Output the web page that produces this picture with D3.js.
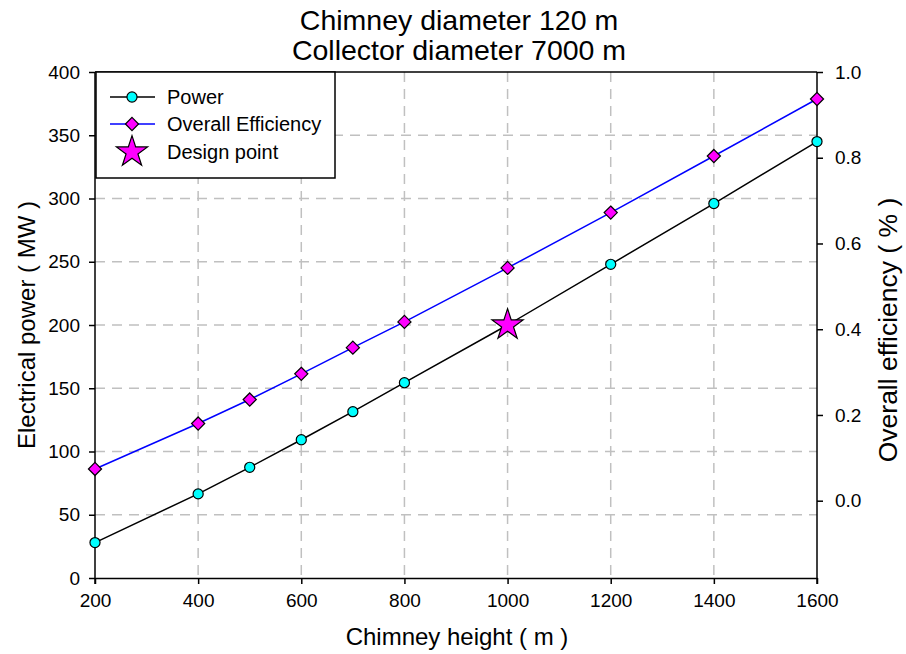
<!DOCTYPE html>
<html>
<head>
<meta charset="utf-8">
<script src="https://cdn.jsdelivr.net/npm/d3@7"></script>
<style>
  body { margin: 0; background: #fff; }
  text { font-family: "Liberation Sans", Arial, sans-serif; fill: #000; }
</style>
</head>
<body>
<svg width="906" height="654"></svg>
<script>
// chart values
var heights = [200, 400, 500, 600, 700, 800, 1000, 1200, 1400, 1600];
var power = [28, 66.5, 87.5, 109.3, 131.5, 154.4, 200, 248, 296, 345];
var efficiency = [0.074, 0.180, 0.236, 0.296, 0.357, 0.417, 0.543, 0.672, 0.804, 0.937];
var design = [{h: 1000, p: 200}];
var xTicks = [200, 400, 600, 800, 1000, 1200, 1400, 1600];
var yTicks = [0, 50, 100, 150, 200, 250, 300, 350, 400];
var effTicks = [0.0, 0.2, 0.4, 0.6, 0.8, 1.0];

var pLeft = 95, pRight = 817, pTop = 72, pBottom = 578;

var svg = d3.select("svg");

var x = d3.scaleLinear().domain([200, 1600]).range([pLeft, pRight]);
var y = d3.scaleLinear().domain([0, 400]).range([pBottom, pTop]);
var y2 = d3.scaleLinear().domain([0, 1]).range([500.7, pTop]);

// grid
svg.append("g").selectAll("line")
    .data(xTicks.slice(1, -1))
    .enter().append("line")
    .attr("x1", function(d) { return x(d); })
    .attr("x2", function(d) { return x(d); })
    .attr("y1", pTop).attr("y2", pBottom)
    .attr("stroke", "#c0c0c0").attr("stroke-width", 1.5)
    .attr("stroke-dasharray", "10,7");
svg.append("g").selectAll("line")
    .data(yTicks.slice(1, -1))
    .enter().append("line")
    .attr("y1", function(d) { return y(d); })
    .attr("y2", function(d) { return y(d); })
    .attr("x1", pLeft).attr("x2", pRight)
    .attr("stroke", "#c0c0c0").attr("stroke-width", 1.5)
    .attr("stroke-dasharray", "10,7");

// frame top
svg.append("line")
    .attr("x1", pLeft).attr("x2", pRight).attr("y1", pTop).attr("y2", pTop)
    .attr("stroke", "#000").attr("stroke-width", 1.5);

// axes
var xAxis = svg.append("g")
    .attr("transform", "translate(0," + pBottom + ")")
    .call(d3.axisBottom(x).tickValues(xTicks).tickFormat(d3.format("d"))
      .tickSize(6).tickPadding(10).tickSizeOuter(0));
var yAxis = svg.append("g")
    .attr("transform", "translate(" + pLeft + ",0)")
    .call(d3.axisLeft(y).tickValues(yTicks).tickFormat(d3.format("d"))
      .tickSize(6).tickPadding(9).tickSizeOuter(0));
var y2Axis = svg.append("g")
    .attr("transform", "translate(" + pRight + ",0)")
    .call(d3.axisRight(y2).tickValues(effTicks).tickFormat(d3.format(".1f"))
      .tickSize(6).tickPadding(12).tickSizeOuter(0));

[xAxis, yAxis, y2Axis].forEach(function(g) {
  g.select(".domain").attr("stroke-width", 1.5);
  g.selectAll(".tick line").attr("stroke-width", 1.5);
  g.selectAll("text").style("font-size", "19px");
});
// extend axis lines to the plot bottom
y2Axis.select(".domain").attr("d", "M0," + pTop + "V" + (pBottom + 6));
yAxis.select(".domain").attr("d", "M0," + pTop + "V" + (pBottom + 6));

// lines
var powerLine = d3.line()
    .x(function(d, i) { return x(heights[i]); })
    .y(function(d) { return y(d); });
var effLine = d3.line()
    .x(function(d, i) { return x(heights[i]); })
    .y(function(d) { return y2(d); });

svg.append("path").datum(efficiency)
    .attr("d", effLine).attr("fill", "none")
    .attr("stroke", "#0000ff").attr("stroke-width", 1.5);
svg.append("path").datum(power)
    .attr("d", powerLine).attr("fill", "none")
    .attr("stroke", "#000").attr("stroke-width", 1.5);

var diamond = d3.symbol().type(d3.symbolDiamond2).size(110);
var circle = d3.symbol().type(d3.symbolCircle).size(80);
var star = d3.symbol().type(d3.symbolStar).size(300);

svg.append("g").selectAll("path")
    .data(efficiency).enter().append("path")
    .attr("d", diamond)
    .attr("transform", function(d, i) { return "translate(" + x(heights[i]) + "," + y2(d) + ")"; })
    .attr("fill", "#ff00ff").attr("stroke", "#000").attr("stroke-width", 1.2);

svg.append("g").selectAll("path")
    .data(power).enter().append("path")
    .attr("d", circle)
    .attr("transform", function(d, i) { return "translate(" + x(heights[i]) + "," + y(d) + ")"; })
    .attr("fill", "#00ffff").attr("stroke", "#000").attr("stroke-width", 1.2);

svg.append("g").selectAll("path")
    .data(design).enter().append("path")
    .attr("d", star)
    .attr("transform", function(d) { return "translate(" + x(d.h) + "," + y(d.p) + ")"; })
    .attr("fill", "#ff00ff").attr("stroke", "#000").attr("stroke-width", 1.2);

// titles
svg.append("text").attr("x", 459).attr("y", 30).attr("text-anchor", "middle")
    .style("font-size", "28.5px").text("Chimney diameter 120 m");
svg.append("text").attr("x", 459).attr("y", 60).attr("text-anchor", "middle")
    .style("font-size", "28.5px").text("Collector diameter 7000 m");

svg.append("text").attr("x", 457).attr("y", 645).attr("text-anchor", "middle")
    .style("font-size", "24px").text("Chimney height ( m )");
svg.append("text").attr("transform", "translate(35,325) rotate(-90)")
    .attr("text-anchor", "middle").style("font-size", "24px").text("Electrical power ( MW )");
svg.append("text").attr("transform", "translate(897,330) rotate(-90)")
    .attr("text-anchor", "middle").style("font-size", "26.5px").text("Overall efficiency ( % )");

// legend
var legend = svg.append("g");
legend.append("rect").attr("x", 96).attr("y", 72).attr("width", 239).attr("height", 106)
    .attr("fill", "#fff").attr("stroke", "#000").attr("stroke-width", 1.5);
var items = [
  {label: "Power", line: "#000", sym: circle, fill: "#00ffff", y: 97},
  {label: "Overall Efficiency", line: "#0000ff", sym: diamond, fill: "#ff00ff", y: 124},
  {label: "Design point", line: null, sym: star, fill: "#ff00ff", y: 152}
];
items.forEach(function(it) {
  if (it.line) {
    legend.append("line").attr("x1", 110).attr("x2", 155).attr("y1", it.y).attr("y2", it.y)
        .attr("stroke", it.line).attr("stroke-width", 1.5);
  }
  legend.append("path").attr("d", it.sym)
      .attr("transform", "translate(132," + it.y + ")")
      .attr("fill", it.fill).attr("stroke", "#000").attr("stroke-width", 1.2);
  legend.append("text").attr("x", 167).attr("y", it.y + 7).style("font-size", "20px").text(it.label);
});
</script>
</body>
</html>
